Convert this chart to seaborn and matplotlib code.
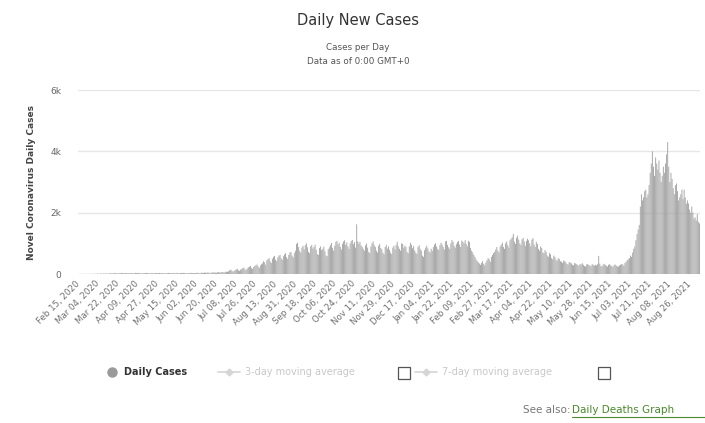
import numpy as np
import pandas as pd
import matplotlib
matplotlib.use("Agg")
import matplotlib.pyplot as plt
import seaborn as sns
from matplotlib.lines import Line2D
from matplotlib.patches import Rectangle

# ---------------- data (daily new cases) ----------------
START = "2020-02-15"
feb20 = [0, 0, 0, 1, 0, 2, 1, 0, 3, 2, 1, 4, 2, 5, 3]
mar20 = [6, 4, 9, 12, 8, 15, 11, 7, 18, 14, 20, 16, 9, 22, 25, 19, 13, 28, 24, 30,
         21, 17, 26, 33, 29, 35, 22, 18, 31, 27, 24]
apr20 = [30, 26, 34, 28, 22, 19, 36, 32, 27, 38, 30, 24, 21, 33, 29, 35, 26, 31, 20, 18,
         28, 34, 30, 25, 37, 29, 23, 27, 32, 26]
may20 = [28, 33, 22, 19, 30, 27, 35, 31, 24, 20, 29, 36, 26, 32, 38, 25, 21, 34, 30, 27,
         40, 33, 26, 22, 31, 37, 29, 35, 28, 24, 32]
jun20 = [30, 36, 42, 33, 28, 45, 39, 34, 48, 41, 37, 52, 44, 31, 40, 55, 47, 50, 43, 38,
         58, 62, 49, 54, 66, 60, 45, 70, 75, 68]
jul20 = [90, 120, 140, 110, 80, 95, 130, 150, 170, 120, 100, 140, 160, 190, 210, 150, 130, 180, 220, 240,
         260, 190, 170, 230, 260, 290, 310, 240, 200, 280, 320]
aug20 = [350, 420, 380, 300, 450, 480, 520, 410, 360, 500, 560, 590, 470, 420, 540, 600, 620, 510, 460, 580,
         640, 680, 550, 490, 620, 700, 720, 600, 540, 680, 760]
sep20 = [980, 1020, 880, 760, 700, 860, 920, 800, 940, 1000, 870, 720, 680, 900, 950, 830, 880, 960, 790, 650,
         620, 850, 900, 780, 820, 890, 740, 600, 580, 810]
oct20 = [870, 940, 1010, 850, 760, 920, 1050, 1080, 960, 1020, 880, 800, 980, 1060, 1100, 950, 1030, 900, 820, 1000,
         1080, 1110, 970, 1040, 860, 1620, 1070, 990, 1050, 930, 880]
nov20 = [820, 760, 930, 990, 860, 720, 680, 900, 1000, 1060, 940, 880, 760, 700, 920, 980, 850, 800, 690, 640,
         880, 950, 830, 900, 780, 700, 650, 860, 920, 800]
dec20 = [950, 1050, 900, 820, 760, 1000, 980, 860, 930, 880, 720, 680, 900, 1020, 950, 840, 910, 770, 700, 650,
         880, 940, 820, 760, 600, 560, 780, 860, 920, 830, 740]
jan21 = [700, 820, 760, 880, 960, 1000, 900, 820, 780, 940, 1020, 960, 880, 800, 1060, 1080, 950, 870, 820, 1000,
         1110, 1050, 920, 860, 980, 1040, 1080, 960, 880, 1090, 1050]
feb21 = [1000, 1100, 980, 900, 1080, 1040, 850, 760, 700, 620, 560, 480, 420, 380, 340, 300, 360, 420, 330, 280,
         380, 450, 520, 480, 400, 560, 620, 680]
mar21 = [720, 800, 880, 760, 700, 900, 960, 1020, 880, 820, 1000, 1060, 940, 860, 1100, 1150, 1200, 1310, 1050, 980,
         1180, 1250, 1120, 1000, 950, 1130, 1180, 1060, 920, 1080, 1150]
apr21 = [1100, 1000, 900, 1120, 1170, 960, 880, 1050, 980, 820, 760, 900, 850, 700, 680, 780, 720, 600, 560, 680,
         640, 520, 480, 600, 560, 470, 430, 520, 490, 420]
may21 = [400, 360, 440, 420, 380, 330, 310, 390, 370, 350, 300, 280, 360, 340, 320, 290, 270, 330, 310, 350,
         300, 260, 240, 310, 330, 290, 280, 250, 320, 300, 270]
jun21 = [300, 280, 320, 590, 340, 260, 250, 310, 330, 290, 270, 240, 300, 320, 280, 260, 230, 290, 310, 270,
         250, 240, 280, 300, 330, 310, 270, 360, 400, 450]
jul21 = [480, 520, 600, 560, 700, 820, 900, 1100, 1300, 1450, 1600, 2200, 2600, 2400, 2500, 2700, 2750, 2500, 2600, 2900,
         3300, 3600, 4000, 3500, 3200, 3800, 3600, 3400, 3700, 3300, 3000]
aug21 = [3200, 3500, 3300, 3600, 3900, 4300, 3500, 3000, 3300, 3100, 2800, 2600, 2900, 2950, 2700, 2400, 2500, 2600, 2750, 2450,
         2750, 2500, 2300, 2400, 2300, 2100, 2000, 2200, 2000, 1800, 1850]
sep21 = [1750, 1950, 1700, 1650]

months = [feb20, mar20, apr20, may20, jun20, jul20, aug20, sep20, oct20, nov20, dec20,
          jan21, feb21, mar21, apr21, may21, jun21, jul21, aug21, sep21]
cases = [v for m in months for v in m]
dates = pd.date_range(START, periods=len(cases), freq="D")
date_labels = [d.strftime("%b %d, %Y") for d in dates]

y_ticks = [0, 2000, 4000, 6000]
y_tick_labels = ["0", "2k", "4k", "6k"]
tick_every = 18

title = "Daily New Cases"
subtitle1 = "Cases per Day"
subtitle2 = "Data as of 0:00 GMT+0"
y_label = "Novel Coronavirus Daily Cases"

# ---------------- figure ----------------
sns.set_theme(style="white")
plt.rcParams["font.family"] = ["DejaVu Sans"]

W, H = 705, 423
fig = plt.figure(figsize=(W / 100, H / 100), dpi=100)
fig.patch.set_facecolor("white")

def fx(px):
    return px / W

def fy(py):
    return 1 - py / H

ax = fig.add_axes([fx(78), fy(274), fx(700) - fx(78), fy(90) - fy(274)])

df = pd.DataFrame({"date": date_labels, "cases": cases})
sns.barplot(data=df, x="date", y="cases", color="#a0a0a0", saturation=1,
            width=0.8, linewidth=0, errorbar=None, ax=ax, zorder=2)
for p in ax.patches:
    p.set_snap(False)
    p.set_antialiased(True)

ax.set_xlim(-0.5, len(cases) - 0.5)
ax.set_ylim(0, 6000)
ax.set_yticks(y_ticks)
ax.set_yticklabels(y_tick_labels, fontsize=6.5, color="#666666")
for yv in y_ticks[1:]:
    ax.axhline(yv, color="#e6e6e6", lw=1, zorder=0)
ax.axhline(0, color="#d8dde6", lw=1, zorder=1)

pos = list(range(0, len(cases), tick_every))
ax.set_xticks(pos)
ax.set_xticklabels([date_labels[i] for i in pos], rotation=45, ha="right",
                   va="center", rotation_mode="anchor", fontsize=6.2, color="#707070")
ax.tick_params(axis="both", length=0)
ax.tick_params(axis="x", pad=6)
ax.tick_params(axis="y", pad=12)
ax.set_xlabel("")
ax.set_ylabel("")
for s in ax.spines.values():
    s.set_visible(False)

# titles
fig.text(fx(358), fy(20), title, ha="center", va="center", fontsize=10.5, color="#333333")
fig.text(fx(358), fy(47), subtitle1, ha="center", va="center", fontsize=6.3, color="#555555")
fig.text(fx(358), fy(61), subtitle2, ha="center", va="center", fontsize=6.3, color="#555555")
fig.text(fx(32), fy(182), y_label, ha="center", va="center", rotation=90,
         fontsize=6.5, fontweight="bold", color="#444444")

# legend
ly = fy(372)
fig.add_artist(Line2D([fx(112)], [ly], marker="o", ms=6.5, color="#9a9a9a",
                      transform=fig.transFigure, lw=0))
fig.text(fx(124), ly, "Daily Cases", ha="left", va="center", fontsize=7,
         fontweight="bold", color="#333333")
for x0, xt, xb, lab in [(218, 245, 398, "3-day moving average"),
                        (415, 442, 598, "7-day moving average")]:
    fig.add_artist(Line2D([fx(x0), fx(x0 + 22)], [ly, ly], color="#d6d6d6", lw=1.2,
                          transform=fig.transFigure))
    fig.add_artist(Line2D([fx(x0 + 11)], [ly], marker="D", ms=3.5, color="#d6d6d6",
                          transform=fig.transFigure, lw=0))
    fig.text(fx(xt), ly, lab, ha="left", va="center", fontsize=7, color="#c8c8c8")
    fig.add_artist(Rectangle((fx(xb), fy(379)), fx(12), 12 / H, transform=fig.transFigure,
                             facecolor="white", edgecolor="#555555", lw=0.9))

# see also
sy = fy(410)
fig.text(fx(523), sy, "See also:", ha="left", va="center", fontsize=7.5, color="#777777")
fig.text(fx(572), sy, "Daily Deaths Graph", ha="left", va="center", fontsize=7.5, color="#4a8a2a")
fig.add_artist(Line2D([fx(572), fx(705)], [fy(417), fy(417)], color="#4a8a2a", lw=0.8,
                      transform=fig.transFigure))

fig.savefig("out.png", dpi=100)
